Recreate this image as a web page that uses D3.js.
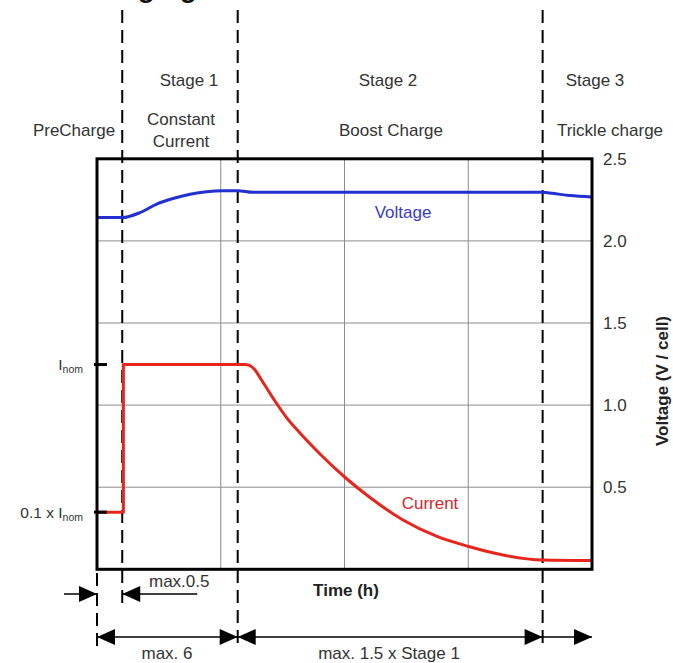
<!DOCTYPE html>
<html>
<head>
<meta charset="utf-8">
<script src="https://cdn.jsdelivr.net/npm/d3@7"></script>
<style>
  body { margin: 0; background: #fff; }
  text { font-family: "Liberation Sans", Arial, sans-serif; }
</style>
</head>
<body>
<div id="chart"></div>
<script>
// time axis is schematic: 4 grid columns
const timeDomain = [0, 4];
const gridTimes = [1, 2, 3];
const stageBounds = [0, 0.204, 1.137, 3.601, 4];

// right axis
const voltTicks = [0.5, 1.0, 1.5, 2.0, 2.5];

// voltage per cell
const voltageTime = [0, 0.204, 0.347, 0.482, 0.614, 0.752, 0.886, 1.018, 1.137, 1.261, 3.601, 3.68, 3.82, 4];
const voltageValue = [2.142, 2.142, 2.172, 2.224, 2.258, 2.284, 2.3, 2.306, 2.306, 2.296, 2.296, 2.29, 2.276, 2.268];

// current, drawn in the same units as the voltage axis
const currentStepTime = [0, 0.213, 0.213, 1.196];
const currentStepValue = [0.348, 0.348, 1.247, 1.247];
const currentDecayTime = [1.196, 1.236, 1.277, 1.317, 1.358, 1.438, 1.535, 1.64, 1.802, 2.01, 2.206, 2.473, 2.747, 3.004, 3.281, 3.602, 4];
const currentDecayValue = [1.247, 1.241, 1.214, 1.168, 1.119, 1.025, 0.921, 0.83, 0.702, 0.556, 0.437, 0.3, 0.2, 0.139, 0.087, 0.057, 0.054];

// left tick labels (main part, subscript)
const currentTickMain = ["I", "0.1 x I"];
const currentTickSub = ["nom", "nom"];
const currentTickValue = [1.247, 0.348];

const stageNames = ["Stage 1", "Stage 2", "Stage 3"];
const phaseNames = ["PreCharge", "Constant|Current", "Boost Charge", "Trickle charge"];
const durationLabels = ["max.0.5", "max. 6", "max. 1.5 x Stage 1"];

const W = 673, H = 663;
const BLUE = "#2230d0", RED = "#e8251d", TXT = "#333";
const FS = "17px";

const svg = d3.select("#chart").append("svg")
  .attr("width", W).attr("height", H);

const x = d3.scaleLinear().domain(timeDomain).range([97, 592]);
const y = d3.scaleLinear().domain([0, 2.5]).range([569.3, 158.8]);

// cropped title at the very top
svg.append("text")
  .attr("x", 74).attr("y", -3.5)
  .style("font-size", "28px").style("font-weight", "bold")
  .attr("fill", "#111")
  .text("Charging Characteristics");

// grid
svg.append("g").selectAll("line")
  .data(voltTicks.filter((d) => d < 2.5))
  .enter().append("line")
  .attr("x1", x(0)).attr("x2", x(4))
  .attr("y1", (d) => y(d)).attr("y2", (d) => y(d))
  .attr("stroke", "#8c8c8c").attr("stroke-width", 1);

svg.append("g").selectAll("line")
  .data(gridTimes)
  .enter().append("line")
  .attr("x1", (d) => x(d)).attr("x2", (d) => x(d))
  .attr("y1", y(2.5)).attr("y2", y(0))
  .attr("stroke", "#8c8c8c").attr("stroke-width", 1);

// stage boundaries (dashed)
const dashEnds = [[573, 650], [10, 604], [10, 650], [10, 650]];
svg.append("g").selectAll("line")
  .data(stageBounds.slice(0, 4))
  .enter().append("line")
  .attr("x1", (d) => x(d)).attr("x2", (d) => x(d))
  .attr("y1", (d, i) => dashEnds[i][0]).attr("y2", (d, i) => dashEnds[i][1])
  .attr("stroke", "#000").attr("stroke-width", 2)
  .attr("stroke-dasharray", "13,7");

// curves
const line = d3.line().x((d) => x(d[0])).y((d) => y(d[1]));
const smooth = d3.line().x((d) => x(d[0])).y((d) => y(d[1])).curve(d3.curveMonotoneX);

const voltage = d3.zip(voltageTime, voltageValue);
svg.append("path")
  .attr("d", smooth(voltage))
  .attr("fill", "none").attr("stroke", BLUE).attr("stroke-width", 3);

const step = d3.zip(currentStepTime, currentStepValue);
const decay = d3.zip(currentDecayTime, currentDecayValue);
svg.append("path")
  .attr("d", line(step) + smooth(decay).replace(/^M/, "L"))
  .attr("fill", "none").attr("stroke", RED).attr("stroke-width", 3)
  .attr("stroke-linejoin", "round");

// frame
svg.append("rect")
  .attr("x", x(0)).attr("y", y(2.5))
  .attr("width", x(4) - x(0)).attr("height", y(0) - y(2.5))
  .attr("fill", "none").attr("stroke", "#000").attr("stroke-width", 3);

// right axis
const yAxis = svg.append("g")
  .attr("transform", `translate(${x(4)},0)`)
  .call(d3.axisRight(y).tickValues(voltTicks).tickSize(0).tickPadding(11).tickFormat(d3.format(".1f")));
yAxis.select(".domain").remove();
yAxis.selectAll(".tick text")
  .attr("fill", TXT)
  .style("font-family", '"Liberation Sans", Arial, sans-serif')
  .style("font-size", FS);

svg.append("text")
  .attr("transform", "translate(662,381) rotate(-90)")
  .attr("text-anchor", "middle").attr("dy", "0.35em")
  .style("font-size", FS).style("font-weight", "bold")
  .attr("fill", "#222")
  .text("Voltage (V / cell)");

// left current ticks
currentTickValue.forEach((v, i) => {
  svg.append("line")
    .attr("x1", x(0) - 3).attr("x2", x(0) + 10)
    .attr("y1", y(v)).attr("y2", y(v))
    .attr("stroke", "#000").attr("stroke-width", 3);
  const t = svg.append("text")
    .attr("x", 83).attr("y", y(v)).attr("dy", "0.35em")
    .attr("text-anchor", "end").attr("fill", TXT)
    .style("font-size", "15.5px");
  t.append("tspan").text(currentTickMain[i]);
  t.append("tspan").attr("dy", "3").style("font-size", "10.5px").text(currentTickSub[i]);
});

// series labels
svg.append("text")
  .attr("x", x(2.473)).attr("y", 212).attr("dy", "0.35em")
  .attr("text-anchor", "middle").attr("fill", "#3a3ac8")
  .style("font-size", FS).text("Voltage");
svg.append("text")
  .attr("x", x(2.691)).attr("y", 503).attr("dy", "0.35em")
  .attr("text-anchor", "middle").attr("fill", "#d8262a")
  .style("font-size", FS).text("Current");

// stage and phase names
const stageX = [189, 388, 595];
stageNames.forEach((s, i) => {
  svg.append("text")
    .attr("x", stageX[i]).attr("y", 80).attr("dy", "0.35em")
    .attr("text-anchor", "middle").attr("fill", TXT)
    .style("font-size", FS).text(s);
});

const phaseX = [74, 181, 391, 610];
phaseNames.forEach((p, i) => {
  const rows = p.split("|");
  rows.forEach((r, j) => {
    svg.append("text")
      .attr("x", phaseX[i])
      .attr("y", 130 + (j - (rows.length - 1) / 2) * 22).attr("dy", "0.35em")
      .attr("text-anchor", "middle").attr("fill", TXT)
      .style("font-size", FS).text(r);
  });
});

// time label
svg.append("text")
  .attr("x", 346).attr("y", 590).attr("dy", "0.35em")
  .attr("text-anchor", "middle").attr("fill", "#222")
  .style("font-size", FS).style("font-weight", "bold")
  .text("Time (h)");

// duration arrows
function arrowHead(tip, yy, dir) {
  const len = 18, half = 8;
  svg.append("path")
    .attr("d", `M${tip},${yy}L${tip - dir * len},${yy - half}L${tip - dir * len},${yy + half}Z`)
    .attr("fill", "#000");
}
function hline(x1, x2, yy) {
  svg.append("line")
    .attr("x1", x1).attr("x2", x2).attr("y1", yy).attr("y2", yy)
    .attr("stroke", "#000").attr("stroke-width", 1.5);
}

const r1 = 594, r2 = 637;
hline(x(0) - 33, x(0), r1);
arrowHead(x(0), r1, 1);
hline(x(stageBounds[1]), x(stageBounds[1]) + 75, r1);
arrowHead(x(stageBounds[1]), r1, -1);

hline(x(0), x(4), r2);
arrowHead(x(0), r2, -1);
arrowHead(x(stageBounds[2]), r2, 1);
arrowHead(x(stageBounds[2]), r2, -1);
arrowHead(x(stageBounds[3]), r2, 1);
arrowHead(x(4), r2, 1);

svg.append("text")
  .attr("x", 149).attr("y", 581).attr("dy", "0.35em")
  .attr("fill", TXT).style("font-size", FS).text(durationLabels[0]);
svg.append("text")
  .attr("x", 167).attr("y", 653).attr("dy", "0.35em")
  .attr("text-anchor", "middle").attr("fill", TXT)
  .style("font-size", FS).text(durationLabels[1]);
svg.append("text")
  .attr("x", 389).attr("y", 653).attr("dy", "0.35em")
  .attr("text-anchor", "middle").attr("fill", TXT)
  .style("font-size", FS).text(durationLabels[2]);
</script>
</body>
</html>
